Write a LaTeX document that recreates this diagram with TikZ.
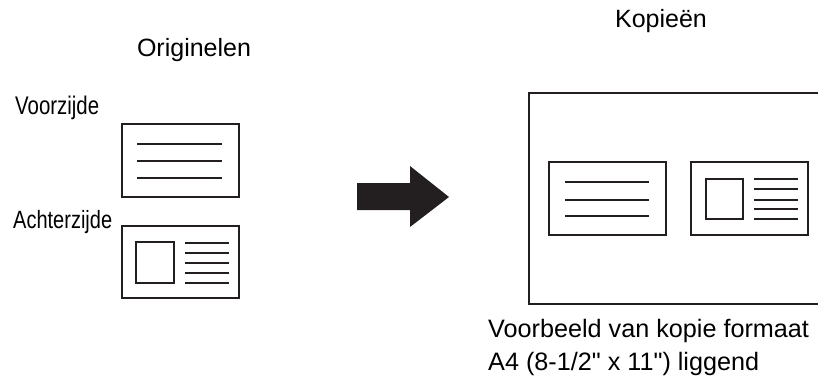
\documentclass[tikz,border=0pt]{standalone}
\usepackage{fontspec}
\setmainfont[Ligatures=TeXOff]{Liberation Sans}
\newfontfamily\narrowfont[FakeStretch=0.8]{Liberation Sans}
\definecolor{ink}{HTML}{231F20}
\begin{document}
\begin{tikzpicture}[x=1pt,y=-1pt,
  frame/.style={draw=ink,line width=2.7pt},
  txtline/.style={draw=ink,line width=2.1pt},
  lbl/.style={inner sep=0pt,anchor=base west,text=black},
  ttl/.style={inner sep=0pt,anchor=base,text=black,font=\fontsize{25}{30}\selectfont}]
\useasboundingbox (0,0) rectangle (818,382);
\begin{scope}
\clip (0,0) rectangle (818,382);
% titles
\node[ttl] (torig) at (194,57) {Originelen};
\node[ttl] (tcopy) at (661,28) {Kopieën};
% labels
\node[lbl,font=\narrowfont\fontsize{25.5}{30}\selectfont] (tfront) at (15,115) {Voorzijde};
\node[lbl,font=\narrowfont\fontsize{25}{30}\selectfont] (tback) at (13,228) {Achterzijde};
% front original
\draw[frame] (122,124) rectangle (239,197);
\foreach \y in {144,161,178} \draw[txtline] (137,\y) -- (222,\y);
% back original
\draw[frame] (122,226) rectangle (239,298);
\draw[txtline] (136,242) rectangle (174,283);
\foreach \y in {243,253,263,273,283} \draw[txtline] (185,\y) -- (229,\y);
% arrow
\fill[ink] (357,183) -- (410,183) -- (410,166) -- (449,197) -- (410,227) -- (410,210) -- (357,210) -- cycle;
% copy sheet
\draw[frame] (829,93) -- (529,93) -- (529,304) -- (829,304);
% front copy
\draw[frame] (549,162) rectangle (666,235);
\foreach \y in {182,200,216} \draw[txtline] (565,\y) -- (649,\y);
% back copy
\draw[frame] (691,162) rectangle (808,235);
\draw[txtline] (706,179) rectangle (743,219);
\foreach \y in {179,189,200,209,219} \draw[txtline] (754,\y) -- (798,\y);
% caption
\node[lbl,font=\fontsize{25.2}{30}\selectfont] (cap1) at (488,337) {Voorbeeld van kopie formaat};
\node[lbl,font=\fontsize{25.2}{30}\selectfont] (cap2) at (488,370) {A4 (8-1/2" x 11") liggend};
\end{scope}
\end{tikzpicture}
\end{document}
